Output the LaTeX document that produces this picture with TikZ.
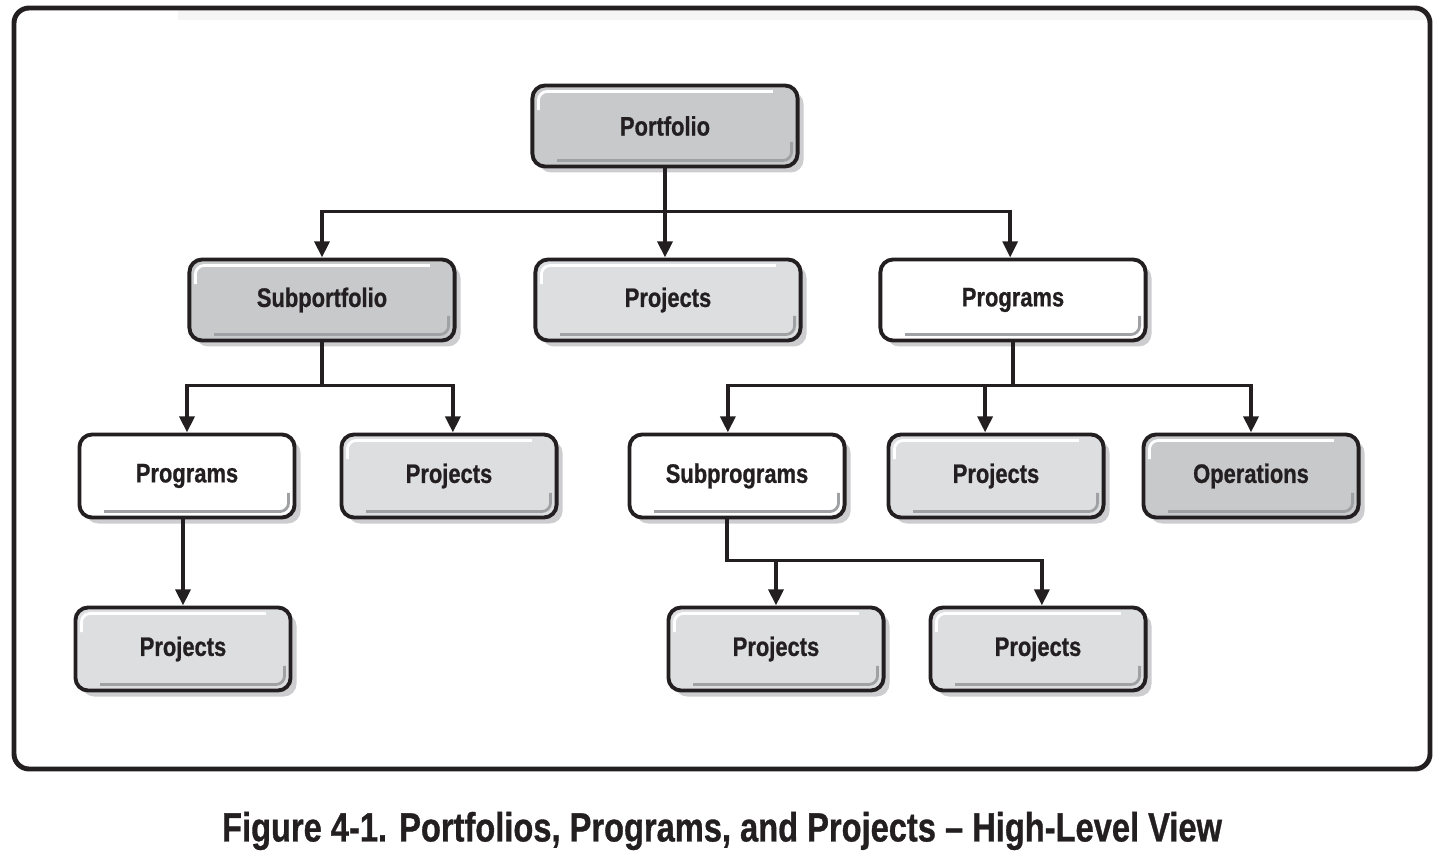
\documentclass[tikz,border=0pt]{standalone}
\usepackage{fontspec}
\setmainfont{Liberation Sans}[FakeStretch=0.82, BoldFeatures={FakeBold=0.8}]
\newfontfamily\captionfont{Liberation Sans}[FakeStretch=0.80, BoldFeatures={FakeBold=0.8}]
\usepackage{tikz}
\usetikzlibrary{arrows.meta, positioning, calc, shadows}
\definecolor{InkBlack}{RGB}{35, 31, 32}
\definecolor{GroupGray}{RGB}{200, 201, 203}
\definecolor{ProjectGray}{RGB}{221, 222, 224}
\definecolor{BevelGray}{RGB}{160, 161, 164}
\definecolor{ShadowGray}{RGB}{205, 205, 207}

\begin{document}
\begin{tikzpicture}[x=0.01cm, y=-0.01cm,
            entity/.style={draw=InkBlack, line width=1.1pt, rounded corners=3.6pt, inner sep=0pt,
                minimum height=0.83cm, text=InkBlack, font=\fontsize{7.6}{9}\selectfont\bfseries,
                drop shadow={shadow xshift=1.7pt, shadow yshift=-1.7pt, fill=ShadowGray, opacity=1},
                path picture={
                    \draw[white, line width=0.8pt, rounded corners=2.5pt]
                        ([xshift=1.7pt, yshift=-7pt]path picture bounding box.north west)
                        |- ([xshift=-7pt, yshift=-1.7pt]path picture bounding box.north east);
                    \draw[BevelGray, line width=0.8pt, rounded corners=2.5pt]
                        ([xshift=7pt, yshift=1.7pt]path picture bounding box.south west)
                        -| ([xshift=-1.7pt, yshift=7pt]path picture bounding box.south east);
                }},
            wide/.style={entity, minimum width=2.65cm, minimum height=0.81cm},
            narrow/.style={entity, minimum width=2.15cm},
            grouping/.style={fill=GroupGray},
            project/.style={fill=ProjectGray},
            program/.style={fill=white},
            link/.style={draw=InkBlack, line width=1.1pt, -{Triangle[width=4.2pt, length=4.6pt]}}
        ]
        \useasboundingbox (0,0) rectangle (1442,864);

        % Frame
        \fill[black!4] (178,9) rectangle (1428,20);
        \draw[InkBlack, line width=1.4pt, rounded corners=4.3pt] (14,8) rectangle (1430,769);

        % Top level
        \node[wide, grouping] (pf) at (665,126) {Portfolio};

        % Second level
        \node[wide, grouping] (spf) at (322,300) {Subportfolio};
        \node[wide, project] (pj1) at (668,300) {Projects};
        \node[wide, program] (prg1) at (1013,300) {Programs};

        % Third level
        \node[narrow, program] (prg2) at (187,476) {Programs};
        \node[narrow, project] (pj2) at (449,476) {Projects};
        \node[narrow, program] (sbp) at (737,476) {Subprograms};
        \node[narrow, project] (pj3) at (996,476) {Projects};
        \node[narrow, grouping] (ops) at (1251,476) {Operations};

        % Fourth level
        \node[narrow, project] (pj4) at (183,649) {Projects};
        \node[narrow, project] (pj5) at (776,649) {Projects};
        \node[narrow, project] (pj6) at (1038,649) {Projects};

        % Connectors
        \draw[link] (pf.south) -- ++(0,43) -| (spf.north);
        \draw[link] (pf.south) -- (pj1.north -| pf.south);
        \draw[link] (pf.south) -- ++(0,43) -| ([xshift=-0.8pt]prg1.north);

        \draw[link] (spf.south) -- ++(0,43) -| (prg2.north);
        \draw[link] (spf.south) -- ++(0,43) -| ([xshift=1.1pt]pj2.north);

        \draw[link] (prg1.south) -- ++(0,43) -| ([xshift=-2.6pt]sbp.north);
        \draw[link] (prg1.south) -- ++(0,43) -| ([xshift=-3.1pt]pj3.north);
        \draw[link] (prg1.south) -- ++(0,43) -| (ops.north);

        \draw[link] (pj4.north |- prg2.south) -- (pj4.north);

        \draw[link] ([xshift=-2.8pt]sbp.south) -- ++(0,41) -| (pj5.north);
        \draw[link] ([xshift=-2.8pt]sbp.south) -- ++(0,41) -| ([xshift=1.1pt]pj6.north);

        % Caption
        \node[text=InkBlack, font=\captionfont\fontsize{11.6}{14}\selectfont\bfseries] (cap) at (722,831)
            {Figure 4-1. Portfolios, Programs, and Projects – High-Level View};
\end{tikzpicture}
\end{document}
